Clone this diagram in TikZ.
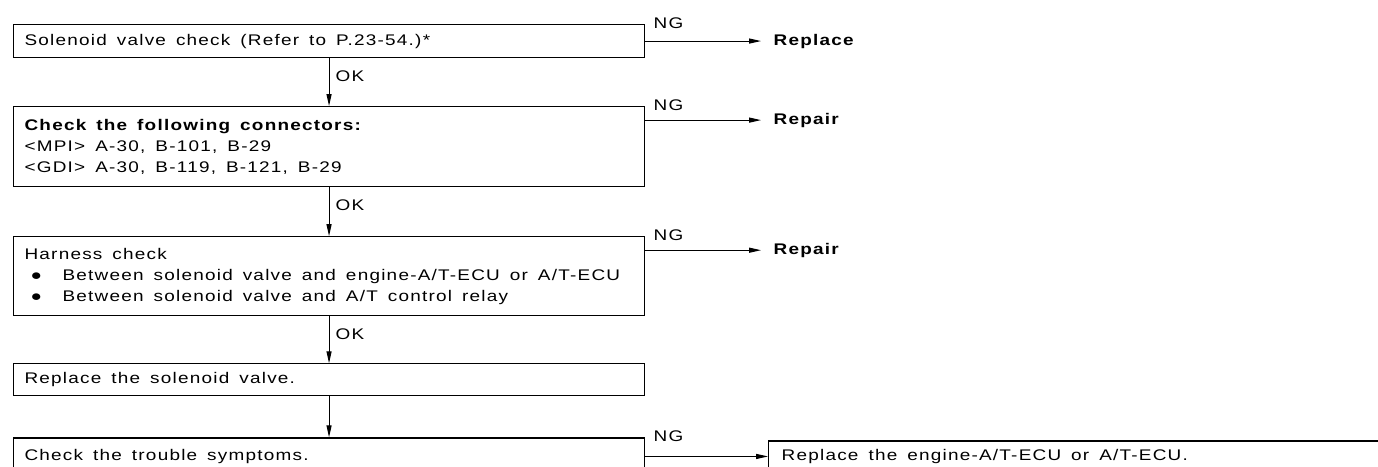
\documentclass[tikz,border=0pt]{standalone}
\usepackage{fontspec}
\setmainfont{Liberation Sans}[FakeStretch=1.23, LetterSpace=8]
\usetikzlibrary{arrows.meta,positioning}

\begin{document}
\begin{tikzpicture}[x=1pt, y=-1pt, node distance=48pt and 116pt,
  font=\fontsize{15.4}{21}\selectfont, line width=1.1pt,
  execute at begin node={\spaceskip=10pt\relax},
  flowbox/.style={draw, align=left, text width=609pt, inner xsep=11pt, inner ysep=4pt},
  endbox/.style={draw, align=left, text width=620pt, inner xsep=13pt, minimum height=31pt},
  result/.style={font=\fontsize{15.4}{21}\selectfont\bfseries, inner xsep=12pt, inner ysep=0pt},
  tag/.style={inner sep=0pt, anchor=base west},
  arrow/.style={-{Triangle[length=12pt,width=5pt]}}]
\useasboundingbox (0,0) rectangle (1378,466);
\clip (0,0) rectangle (1378,466);
\node[flowbox, anchor=north west, minimum height=33pt] (chk) at (13,24) {Solenoid valve check (Refer to P.23-54.)*};
\node[flowbox, below=of chk, minimum height=80pt] (conn) {\textbf{Check the following connectors:}\\ <MPI> A-30, B-101, B-29\\ <GDI> A-30, B-119, B-121, B-29};
\node[flowbox, below=49pt of conn, minimum height=79pt] (harn) {Harness check\\
  \hspace*{6pt}\makebox[32pt][l]{●}Between solenoid valve and engine-A/T-ECU or A/T-ECU\\
  \hspace*{6pt}\makebox[32pt][l]{●}Between solenoid valve and A/T control relay};
\node[flowbox, below=47pt of harn, minimum height=32pt] (repl) {Replace the solenoid valve.};
\node[flowbox, below=41pt of repl, minimum height=37pt] (symp) {Check the trouble symptoms.};
\node[endbox, right=123pt of symp] (ecu) {Replace the engine-A/T-ECU or A/T-ECU.};
% NG branches
\coordinate (ng2) at ([yshift=-14pt]conn.north east);
\coordinate (ng3) at ([yshift=-14pt]harn.north east);
\node[result, right=of chk] (rep1) {Replace};
\node[result, right=of ng2] (rep2) {Repair};
\node[result, right=of ng3] (rep3) {Repair};
\draw[arrow] (chk) -- (rep1);
\draw[arrow] (ng2) -- (rep2);
\draw[arrow] (ng3) -- (rep3);
\draw[arrow] (symp) -- (ecu);
\node[tag] (ngA) at ([xshift=8pt, yshift=-4pt]chk.north east) {NG};
\node[tag] (ngB) at ([xshift=8pt, yshift=-4pt]conn.north east) {NG};
\node[tag] (ngC) at ([xshift=8pt, yshift=-4pt]harn.north east) {NG};
\node[tag] (ngD) at ([xshift=8pt, yshift=-4pt]symp.north east) {NG};
% OK branches
\draw[arrow] (chk) -- (conn);
\draw[arrow] (conn) -- (harn);
\draw[arrow] (harn) -- (repl);
\draw[arrow] (repl) -- (symp);
\node[tag] (okA) at ([xshift=6pt, yshift=-23pt]chk.south) {OK};
\node[tag] (okB) at ([xshift=6pt, yshift=-23pt]conn.south) {OK};
\node[tag] (okC) at ([xshift=6pt, yshift=-23pt]harn.south) {OK};
\end{tikzpicture}
\end{document}
